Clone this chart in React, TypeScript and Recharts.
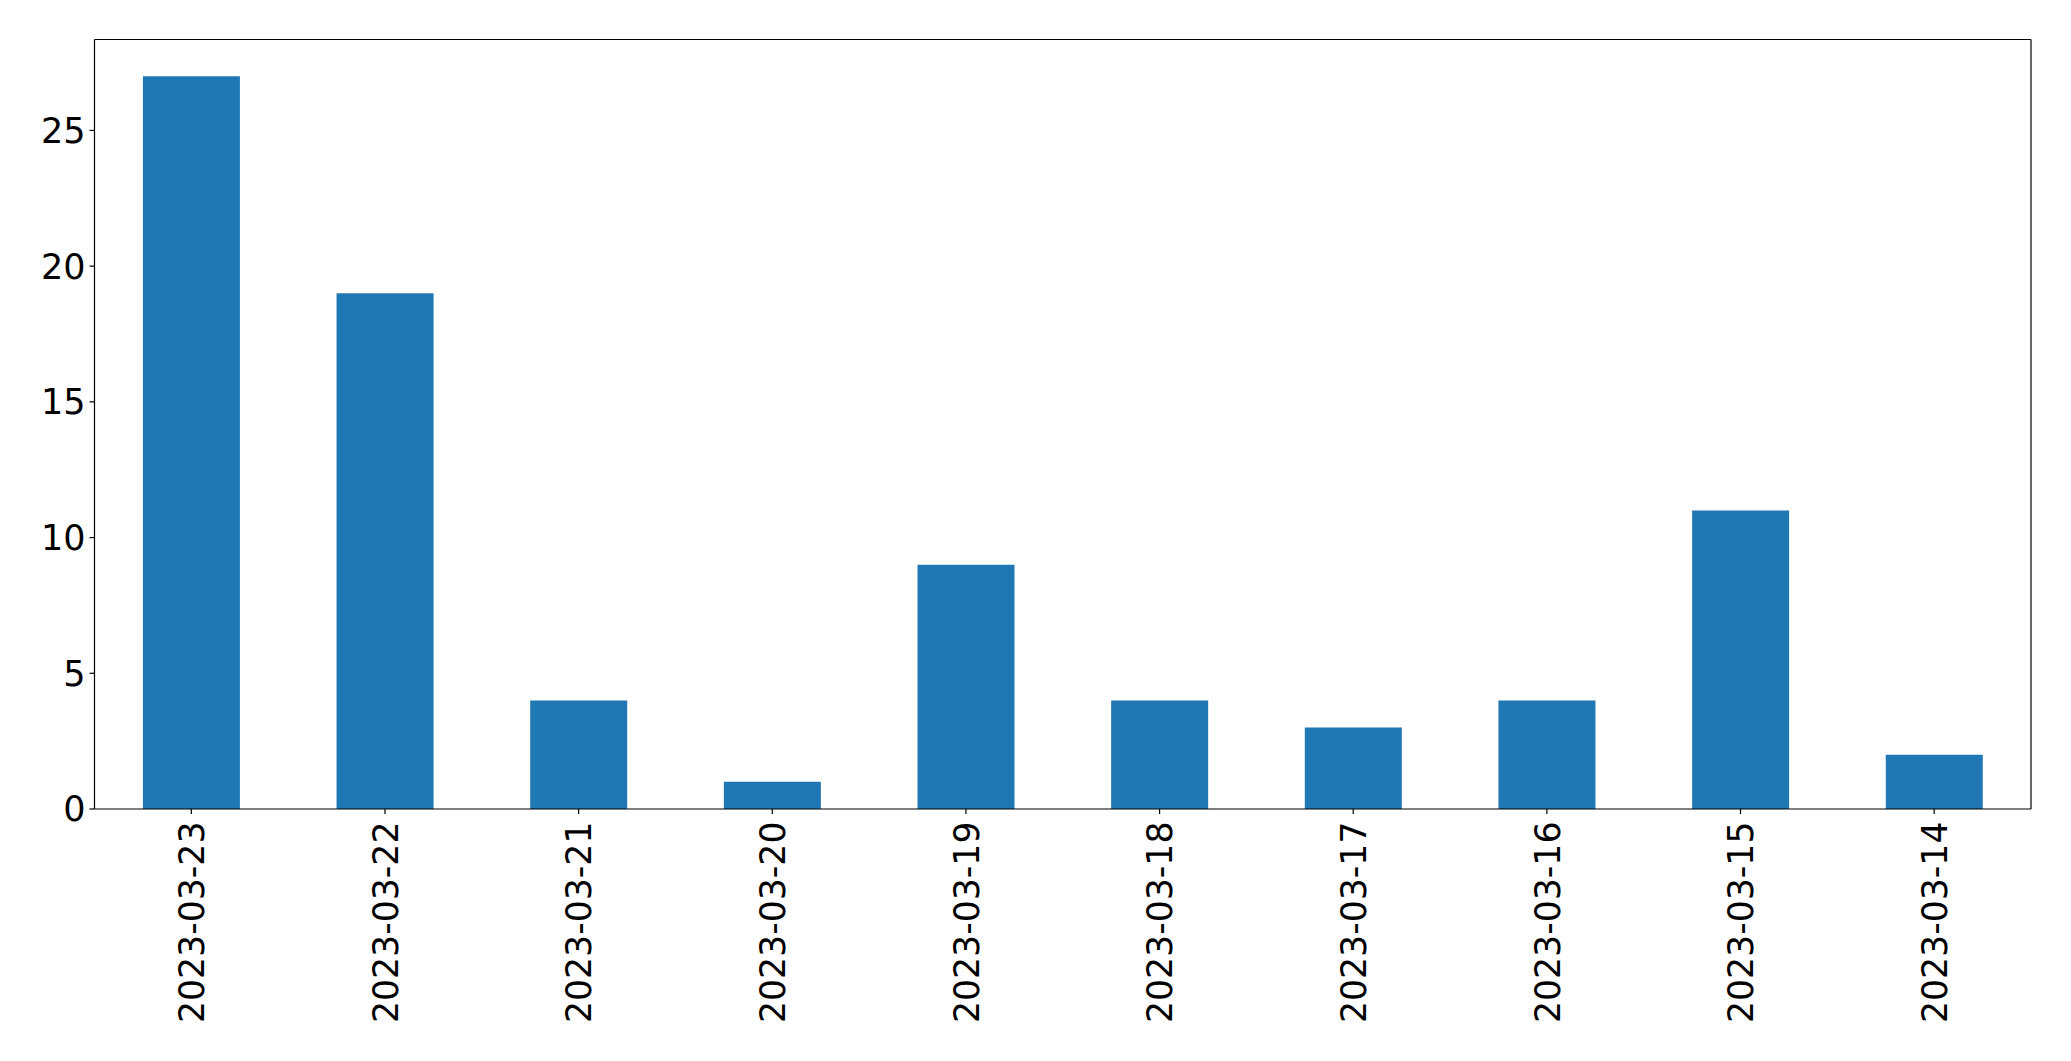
import { BarChart, Bar, XAxis, YAxis } from "recharts";

const dates = [
  "2023-03-23",
  "2023-03-22",
  "2023-03-21",
  "2023-03-20",
  "2023-03-19",
  "2023-03-18",
  "2023-03-17",
  "2023-03-16",
  "2023-03-15",
  "2023-03-14",
];
const counts = [27, 19, 4, 1, 9, 4, 3, 4, 11, 2];
const yTicks = [0, 5, 10, 15, 20, 25];

const data = dates.map((d, i) => ({ date: d, count: counts[i] }));

const font = "DejaVu Sans, sans-serif";
const line = { stroke: "#000", strokeWidth: 1.2 };

function DateTick(props: any) {
  const { x, y, payload } = props;
  return (
    <g transform={`translate(${x},${y + 5.5})`}>
      <text
        x={0}
        y={0}
        dy="0.365em"
        transform="rotate(-90)"
        textAnchor="end"
        fontSize={34.7}
        fontFamily={font}
        fill="#000"
      >
        {payload.value}
      </text>
    </g>
  );
}

export default function App() {
  return (
    <div style={{ position: "absolute", left: 0, top: 0, background: "#fff" }}>
      <BarChart
        width={2071}
        height={1061}
        data={data}
        margin={{ top: 38.5, right: 39, left: 0, bottom: 0 }}
        barCategoryGap="25%"
      >
        <XAxis
          dataKey="date"
          interval={0}
          height={252}
          axisLine={line}
          tickLine={line}
          tickSize={5}
          tick={<DateTick />}
        />
        <XAxis
          xAxisId="top"
          dataKey="date"
          orientation="top"
          height={1}
          tick={false}
          tickLine={false}
          axisLine={line}
        />
        <YAxis
          width={94.5}
          domain={[0, 28.35]}
          ticks={yTicks}
          axisLine={line}
          tickLine={line}
          tickSize={5}
          tickMargin={4}
          tick={{ fontSize: 35, fontFamily: font, fill: "#000" }}
        />
        <YAxis
          yAxisId="right"
          orientation="right"
          width={1}
          domain={[0, 1]}
          tick={false}
          tickLine={false}
          axisLine={line}
        />
        <Bar dataKey="count" fill="#1f77b4" isAnimationActive={false} />
      </BarChart>
    </div>
  );
}
